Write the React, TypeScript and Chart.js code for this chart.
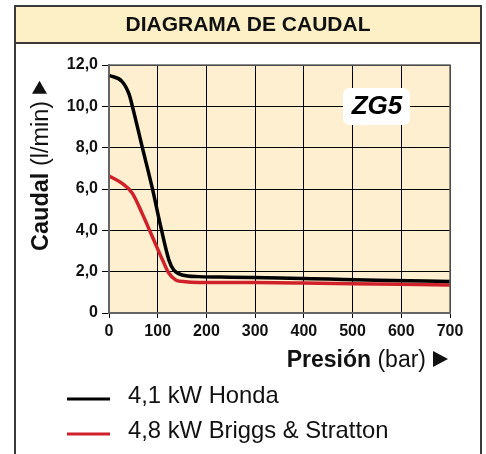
import React, { useEffect, useRef } from 'react';
import { Chart, registerables } from 'chart.js';

Chart.register(...registerables);

const chartTitle = 'DIAGRAMA DE CAUDAL';
const seriesNames = ['4,1 kW Honda', '4,8 kW Briggs & Stratton'];
const seriesColors = ['#000000', '#d0202a'];
const modelLabel = 'ZG5';

const hondaPressure = [0, 27, 41, 48, 68, 89, 106, 123, 133, 150, 185, 250, 350, 450, 550, 700];
const hondaFlow = [11.5, 11.2, 10.6, 10.0, 8.05, 6.03, 4.2, 2.56, 2.08, 1.84, 1.76, 1.73, 1.69, 1.64, 1.59, 1.52];

const bsPressure = [0, 27, 48, 68, 89, 110, 123, 137, 157, 185, 300, 400, 500, 600, 700];
const bsFlow = [6.63, 6.27, 5.79, 4.82, 3.69, 2.56, 1.92, 1.6, 1.51, 1.48, 1.47, 1.45, 1.42, 1.39, 1.36];

const xTickValues = [0, 100, 200, 300, 400, 500, 600, 700];
const yTickValues = [0, 2, 4, 6, 8, 10, 12];

const xTitleBold = 'Presión';
const xTitleNormal = ' (bar)';
const yTitleBold = 'Caudal';
const yTitleNormal = ' (l/min)';

const FONT = '"Liberation Sans", Arial, Helvetica, sans-serif';

const decor = {
  id: 'decor',
  beforeDraw(chart: any) {
    const { ctx, chartArea: a, width, height } = chart;
    ctx.save();
    ctx.fillStyle = '#ffffff';
    ctx.fillRect(0, 0, width, height);
    ctx.fillStyle = '#fdf0c6';
    ctx.fillRect(15, 6, 466, 37);
    ctx.fillStyle = '#feefd0';
    ctx.fillRect(a.left, a.top, a.right - a.left, a.bottom - a.top);
    ctx.restore();
  },
  afterDraw(chart: any) {
    const { ctx, chartArea: a } = chart;
    ctx.save();
    // outer box
    ctx.strokeStyle = '#3a3a3a';
    ctx.lineWidth = 2;
    ctx.beginPath();
    ctx.moveTo(15, 454);
    ctx.lineTo(15, 6);
    ctx.lineTo(481, 6);
    ctx.lineTo(481, 454);
    ctx.stroke();
    ctx.beginPath();
    ctx.moveTo(15, 43);
    ctx.lineTo(481, 43);
    ctx.stroke();
    // title
    ctx.fillStyle = '#111';
    ctx.font = `bold 21px ${FONT}`;
    ctx.textAlign = 'center';
    ctx.textBaseline = 'middle';
    ctx.fillText(chartTitle, 248, 25);
    // plot frame
    ctx.strokeStyle = '#666';
    ctx.lineWidth = 1.5;
    ctx.strokeRect(a.left, a.top, a.right - a.left, a.bottom - a.top);
    // model label
    ctx.fillStyle = '#ffffff';
    ctx.beginPath();
    (ctx as any).roundRect(343, 88, 67, 37, 7);
    ctx.fill();
    ctx.fillStyle = '#000';
    ctx.font = `italic bold 26px ${FONT}`;
    ctx.textAlign = 'center';
    ctx.textBaseline = 'middle';
    ctx.fillText(modelLabel, 377, 107);

    // x title
    ctx.textAlign = 'left';
    ctx.textBaseline = 'alphabetic';
    ctx.font = `bold 23px ${FONT}`;
    const wxb = ctx.measureText(xTitleBold).width;
    ctx.font = `23px ${FONT}`;
    const wxn = ctx.measureText(xTitleNormal).width;
    const xEnd = 426;
    const x0 = xEnd - wxb - wxn;
    ctx.fillStyle = '#111';
    ctx.font = `bold 23px ${FONT}`;
    ctx.fillText(xTitleBold, x0, 367);
    ctx.font = `23px ${FONT}`;
    ctx.fillText(xTitleNormal, x0 + wxb, 367);
    ctx.beginPath();
    ctx.moveTo(433, 351);
    ctx.lineTo(448, 359);
    ctx.lineTo(433, 367);
    ctx.closePath();
    ctx.fill();

    // y title
    ctx.save();
    ctx.translate(48, 251);
    ctx.rotate(-Math.PI / 2);
    ctx.font = `bold 23.5px ${FONT}`;
    const wyb = ctx.measureText(yTitleBold).width;
    ctx.fillText(yTitleBold, 0, 0);
    ctx.font = `23.5px ${FONT}`;
    const wyn = ctx.measureText(yTitleNormal).width;
    ctx.fillText(yTitleNormal, wyb, 0);
    const tx = wyb + wyn + 7;
    ctx.beginPath();
    ctx.moveTo(tx, -1);
    ctx.lineTo(tx + 13, -8.5);
    ctx.lineTo(tx, -16);
    ctx.closePath();
    ctx.fill();
    ctx.restore();

    // legend
    const rows = [399, 434];
    seriesNames.forEach((name, i) => {
      ctx.strokeStyle = seriesColors[i];
      ctx.lineWidth = 3;
      ctx.beginPath();
      ctx.moveTo(67, rows[i]);
      ctx.lineTo(110, rows[i]);
      ctx.stroke();
      ctx.fillStyle = '#111';
      ctx.font = `23.8px ${FONT}`;
      ctx.textAlign = 'left';
      ctx.textBaseline = 'middle';
      ctx.fillText(name, 128, rows[i] - 3);
    });
    ctx.restore();
  },
};

export default function App() {
  const ref = useRef<HTMLCanvasElement>(null);
  useEffect(() => {
    if (!ref.current) return;
    const chart = new Chart(ref.current, {
      type: 'line',
      data: {
        datasets: [
          {
            label: seriesNames[0],
            data: hondaPressure.map((p, i) => ({ x: p, y: hondaFlow[i] })),
            borderColor: seriesColors[0],
            borderWidth: 3.5,
            pointRadius: 0,
            cubicInterpolationMode: 'monotone',
            fill: false,
          },
          {
            label: seriesNames[1],
            data: bsPressure.map((p, i) => ({ x: p, y: bsFlow[i] })),
            borderColor: seriesColors[1],
            borderWidth: 3.5,
            pointRadius: 0,
            cubicInterpolationMode: 'monotone',
            fill: false,
          },
        ],
      },
      options: {
        responsive: false,
        animation: false,
        layout: { padding: { top: 65, right: 36, left: 0, bottom: 0 } },
        plugins: { legend: { display: false }, tooltip: { enabled: false }, title: { display: false } },
        scales: {
          x: {
            type: 'linear',
            min: 0,
            max: 700,
            afterFit: (s: any) => { s.height = 141; },
            afterBuildTicks: (s: any) => { s.ticks = xTickValues.map((v) => ({ value: v })); },
            ticks: { font: { family: FONT, size: 16, weight: 'bold' }, color: '#111', padding: 4, maxRotation: 0 },
            grid: { color: '#000', lineWidth: 1, tickLength: 5 },
            border: { color: '#666', width: 2 },
          },
          y: {
            type: 'linear',
            min: 0,
            max: 12,
            afterFit: (s: any) => { s.width = 109; },
            afterBuildTicks: (s: any) => { s.ticks = yTickValues.map((v) => ({ value: v })); },
            ticks: {
              font: { family: FONT, size: 16, weight: 'bold' },
              color: '#111',
              padding: 4,
              callback: (v: any) => (Number(v) === 0 ? '0' : Number(v).toFixed(1).replace('.', ',')),
            },
            grid: { color: '#000', lineWidth: 1, tickLength: 7 },
            border: { color: '#666', width: 2 },
          },
        },
      },
      plugins: [decor],
    } as any);
    return () => chart.destroy();
  }, []);
  return (
    <div style={{ position: 'absolute', left: 0, top: 0, width: 486, height: 454 }}>
      <canvas ref={ref} width={486} height={454} style={{ width: 486, height: 454, display: 'block' }} />
    </div>
  );
}
